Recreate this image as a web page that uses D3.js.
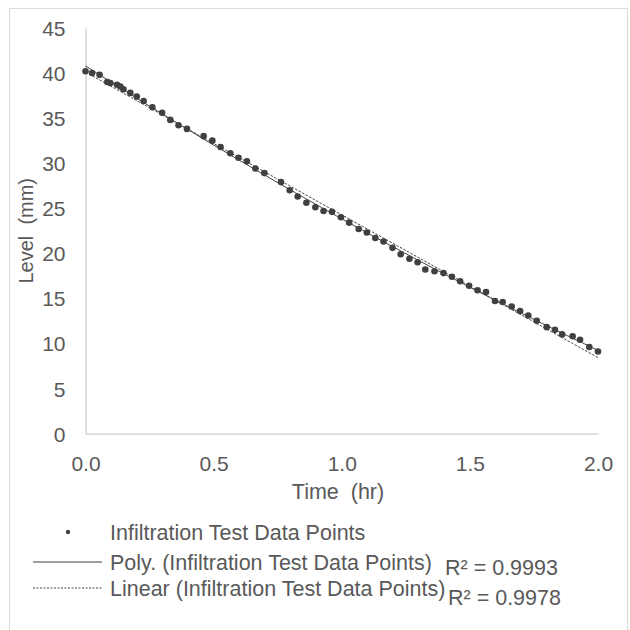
<!DOCTYPE html>
<html><head><meta charset="utf-8">
<script src="https://cdn.jsdelivr.net/npm/d3@7"></script>
<style>
html,body{margin:0;padding:0;background:#fff;}
text{font-family:"Liberation Sans",Arial,sans-serif;fill:#595959;}
</style></head>
<body><svg id="chart" width="630" height="630"></svg>
<script>
const timeHr = [0.000,0.026,0.055,0.085,0.097,0.123,0.136,0.148,0.175,0.200,0.227,0.261,0.299,0.331,0.363,0.396,0.461,0.495,0.527,0.565,0.597,0.630,0.663,0.698,0.763,0.797,0.828,0.862,0.897,0.929,0.962,0.997,1.029,1.066,1.098,1.131,1.163,1.198,1.230,1.264,1.296,1.326,1.362,1.397,1.430,1.462,1.497,1.530,1.563,1.598,1.628,1.663,1.696,1.728,1.761,1.800,1.832,1.860,1.901,1.930,1.966,2.000];
const levelMm = [40.2,40.0,39.8,39.0,38.9,38.7,38.5,38.2,37.8,37.4,36.9,36.2,35.6,34.8,34.2,33.8,33.0,32.5,31.8,31.1,30.6,30.2,29.4,28.9,27.9,27.0,26.3,25.6,25.1,24.7,24.6,24.0,23.4,22.7,22.3,21.7,21.3,20.6,19.9,19.4,19.0,18.2,18.0,17.8,17.4,16.9,16.4,15.9,15.7,14.7,14.6,14.1,13.6,13.1,12.5,11.8,11.5,11.0,10.8,10.4,9.6,9.1];
const xTicks = [0,0.5,1.0,1.5,2.0];
const yTicks = [0,5,10,15,20,25,30,35,40,45];
const xTitle = "Time  (hr)";
const yTitle = "Level  (mm)";
const legendLabels = ["Infiltration Test Data Points","Poly. (Infiltration Test Data Points)","Linear (Infiltration Test Data Points)"];
const r2Labels = ["R² = 0.9993","R² = 0.9978"];

const data = timeHr.map((t,i)=>({t, v: levelMm[i]}));
const svg = d3.select("#chart");

// outer border
svg.append("rect").attr("x",9.5).attr("y",8.5).attr("width",618).attr("height",640)
  .attr("fill","none").attr("stroke","#d9d9d9").attr("stroke-width",1);

const x = d3.scaleLinear().domain([0,2]).range([85.5,598]);
const y = d3.scaleLinear().domain([0,45]).range([433.5,28]);

// axes
const gx = svg.append("g").attr("transform",`translate(0,${y(0)})`)
  .call(d3.axisBottom(x).tickValues(xTicks).tickSize(0).tickSizeOuter(0).tickFormat(d3.format(".1f")));
gx.select(".domain").attr("stroke","#bfbfbf");
gx.selectAll("text").attr("dy",null).attr("y",37).style("font-size","21px").attr("fill","#595959");

const gy = svg.append("g").attr("transform",`translate(${x(0)},0)`)
  .call(d3.axisLeft(y).tickValues(yTicks).tickSize(0).tickSizeOuter(0));
gy.select(".domain").attr("stroke","#bfbfbf");
gy.selectAll("text").attr("x",-20).attr("dy","0.36em").style("font-size","21px").attr("fill","#595959");

// titles
svg.append("text").attr("x",338).attr("y",499).attr("text-anchor","middle")
  .style("font-size","21.5px").style("white-space","pre").text(xTitle);
svg.append("text").attr("transform",`translate(33,${(y(0)+y(45))/2}) rotate(-90)`)
  .attr("text-anchor","middle").style("font-size","20px").style("white-space","pre").text(yTitle);

// fits
function linFit(d){
  const mx=d3.mean(d,e=>e.t), my=d3.mean(d,e=>e.v);
  const b=d3.sum(d,e=>(e.t-mx)*(e.v-my))/d3.sum(d,e=>(e.t-mx)**2);
  const a=my-b*mx; return t=>a+b*t;
}
function polyFit(d){
  const S=k=>d3.sum(d,e=>e.t**k), T=k=>d3.sum(d,e=>e.v*e.t**k);
  const A=[[S(0),S(1),S(2)],[S(1),S(2),S(3)],[S(2),S(3),S(4)]], B=[T(0),T(1),T(2)];
  for(let i=0;i<3;i++){for(let j=i+1;j<3;j++){const f=A[j][i]/A[i][i];for(let k=i;k<3;k++)A[j][k]-=f*A[i][k];B[j]-=f*B[i];}}
  const c=[0,0,0];
  for(let i=2;i>=0;i--){let s=B[i];for(let k=i+1;k<3;k++)s-=A[i][k]*c[k];c[i]=s/A[i][i];}
  return t=>c[0]+c[1]*t+c[2]*t*t;
}
const lf=linFit(data), pf=polyFit(data);
const ts=d3.range(0,2.0001,0.02);
const line=f=>d3.line().x(t=>x(t)).y(t=>y(f(t)))(ts);

// points
svg.append("g").selectAll("circle").data(data).join("circle")
  .attr("cx",d=>x(d.t)).attr("cy",d=>y(d.v)).attr("r",3.3).attr("fill","#404040");

svg.append("path").attr("d",line(pf)).attr("fill","none").attr("stroke","#404040").attr("stroke-width",1);
svg.append("path").attr("d",line(lf)).attr("fill","none").attr("stroke","#404040").attr("stroke-width",1)
  .attr("stroke-dasharray","2.5,1.5");

// legend
const lg=svg.append("g");
const rowsY=[532,562,588];
lg.append("circle").attr("cx",68).attr("cy",rowsY[0]).attr("r",2.2).attr("fill","#404040");
lg.append("line").attr("x1",33).attr("x2",102).attr("y1",rowsY[1]).attr("y2",rowsY[1]).attr("stroke","#404040");
lg.append("line").attr("x1",33).attr("x2",102).attr("y1",rowsY[2]).attr("y2",rowsY[2]).attr("stroke","#404040").attr("stroke-dasharray","2,1.5");
legendLabels.forEach((s,i)=>{
  lg.append("text").attr("x",110).attr("y",rowsY[i]).attr("dy","0.36em").style("font-size","21.5px").text(s);
});
lg.append("text").attr("x",445).attr("y",575).style("font-size","21.5px").text(r2Labels[0]);
lg.append("text").attr("x",448).attr("y",605).style("font-size","21.5px").text(r2Labels[1]);
</script></body></html>
